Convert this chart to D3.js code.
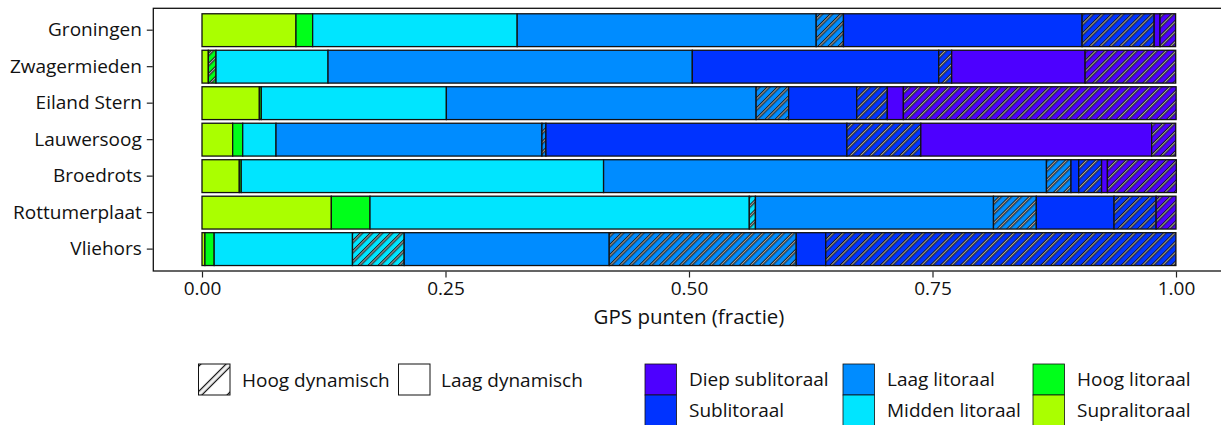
<!DOCTYPE html>
<html>
<head>
<meta charset="utf-8">
<script src="https://cdn.jsdelivr.net/npm/d3@7"></script>
<style>
  html, body { margin: 0; padding: 0; background: #fff; }
  svg { display: block; }
  text { font-family: "Open Sans", "Noto Sans", sans-serif; fill: #111; }
</style>
</head>
<body>
<svg id="chart" width="1221" height="425"></svg>
<script>
// ---------- data ----------
const categories = ["Groningen", "Zwagermieden", "Eiland Stern", "Lauwersoog", "Broedrots", "Rottumerplaat", "Vliehors"];

// fraction of GPS points per zone, split in laag (low) / hoog (high) dynamic
const supraLaag   = [0.0965, 0.0065, 0.0589, 0.0315, 0.0383, 0.1328, 0.0030];
const supraHoog   = [0,      0,      0,      0,      0,      0,      0];
const hoogLaag    = [0.0171, 0,      0.0020, 0.0103, 0.0020, 0.0397, 0.0095];
const hoogHoog    = [0,      0.0079, 0,      0,      0,      0,      0];
const middenLaag  = [0.2100, 0.1150, 0.1900, 0.0342, 0.3720, 0.3894, 0.1420];
const middenHoog  = [0,      0,      0,      0,      0,      0.0063, 0.0531];
const laagLaag    = [0.3070, 0.3740, 0.3180, 0.2730, 0.4547, 0.2444, 0.2105];
const laagHoog    = [0.0280, 0,      0.0334, 0.0041, 0.0252, 0.0440, 0.1920];
const subLaag     = [0.2450, 0.2530, 0.0699, 0.3090, 0.0079, 0.0798, 0.0303];
const subHoog     = [0.0740, 0.0133, 0.0314, 0.0759, 0.0235, 0.0432, 0.3595];
const diepLaag    = [0.0060, 0.1370, 0.0165, 0.2370, 0.0060, 0,      0];
const diepHoog    = [0.0160, 0.0930, 0.2800, 0.0247, 0.0707, 0.0204, 0];

const zones = ["Supralitoraal", "Hoog litoraal", "Midden litoraal", "Laag litoraal", "Sublitoraal", "Diep sublitoraal"];
const zoneColors = ["#aaff00", "#00ff1a", "#00e5ff", "#008cff", "#0033ff", "#4d00ff"];
const dynamics = ["Laag dynamisch", "Hoog dynamisch"];
const xTicks = [0, 0.25, 0.5, 0.75, 1];
const xTickLabels = ["0.00", "0.25", "0.50", "0.75", "1.00"];
const xTitle = "GPS punten (fractie)";

const seriesValues = [
  supraLaag, supraHoog, hoogLaag, hoogHoog, middenLaag, middenHoog,
  laagLaag, laagHoog, subLaag, subHoog, diepLaag, diepHoog
];

// build series keys
const seriesKeys = [];
zones.forEach((z, zi) => dynamics.forEach((d, di) => seriesKeys.push({ key: z + "|" + d, zone: zi, hatched: di === 1 })));

const table = categories.map((c, ci) => {
  const row = { cat: c };
  seriesKeys.forEach((s, si) => { row[s.key] = seriesValues[si][ci]; });
  return row;
});

// ---------- layout ----------
const svg = d3.select("#chart");
const panel = { left: 153.3, top: 8.3, right: 1224.7, bottom: 271 };
const labelSize = 19, titleSize = 20.5;

const x = d3.scaleLinear()
  .domain([-0.05, 1.05])
  .range([panel.left, panel.right]);

const y = d3.scaleBand()
  .domain(categories)
  .range([panel.top, panel.bottom])
  .paddingInner(0.1)
  .paddingOuter(0.15);

// patterns
const defs = svg.append("defs");
const sp = 7.1;
const pat = defs.append("pattern")
  .attr("id", "hatch")
  .attr("patternUnits", "userSpaceOnUse")
  .attr("width", sp).attr("height", sp)
  .attr("patternTransform", "rotate(45)");
pat.append("rect").attr("x", 0).attr("y", 0).attr("width", 3.0).attr("height", sp).attr("fill", "#1a1a1a");
pat.append("rect").attr("x", 1.0).attr("y", 0).attr("width", 1.0).attr("height", sp).attr("fill", "#b4b4b4");

const sp2 = 22.6;
const pat2 = defs.append("pattern")
  .attr("id", "hatchLegend")
  .attr("patternUnits", "userSpaceOnUse")
  .attr("width", sp2).attr("height", sp2)
  .attr("patternTransform", "translate(214,379.5) rotate(45)");
pat2.append("rect").attr("x", -3).attr("y", 0).attr("width", 6).attr("height", sp2).attr("fill", "#1a1a1a");
pat2.append("rect").attr("x", -1.8).attr("y", 0).attr("width", 3.6).attr("height", sp2).attr("fill", "#f2f2f2");
pat2.append("rect").attr("x", sp2 - 3).attr("y", 0).attr("width", 6).attr("height", sp2).attr("fill", "#1a1a1a");
pat2.append("rect").attr("x", sp2 - 1.8).attr("y", 0).attr("width", 3.6).attr("height", sp2).attr("fill", "#f2f2f2");

// panel background
svg.append("rect")
  .attr("x", panel.left).attr("y", panel.top)
  .attr("width", panel.right - panel.left).attr("height", panel.bottom - panel.top)
  .attr("fill", "#fff");

// stack
const stack = d3.stack().keys(seriesKeys.map(s => s.key));
const stacked = stack(table);

const gBars = svg.append("g");
stacked.forEach((layer, li) => {
  const info = seriesKeys[li];
  layer.forEach((seg, ci) => {
    const v = seg[1] - seg[0];
    if (v <= 0) return;
    const cat = categories[ci];
    const x0 = x(seg[0]), x1 = x(seg[1]);
    gBars.append("rect")
      .attr("x", x0).attr("y", y(cat))
      .attr("width", x1 - x0).attr("height", y.bandwidth())
      .attr("fill", zoneColors[info.zone]);
    if (info.hatched) {
      gBars.append("rect")
        .attr("x", x0).attr("y", y(cat))
        .attr("width", x1 - x0).attr("height", y.bandwidth())
        .attr("fill", "url(#hatch)");
    }
    gBars.append("rect")
      .attr("x", x0).attr("y", y(cat))
      .attr("width", x1 - x0).attr("height", y.bandwidth())
      .attr("fill", "none")
      .attr("stroke", "#111")
      .attr("stroke-width", 1.3);
  });
});

// panel border
svg.append("rect")
  .attr("x", panel.left).attr("y", panel.top)
  .attr("width", panel.right - panel.left).attr("height", panel.bottom - panel.top)
  .attr("fill", "none").attr("stroke", "#111").attr("stroke-width", 1.3);

// x axis
const xAxis = d3.axisBottom(x)
  .tickValues(xTicks)
  .tickFormat((d, i) => xTickLabels[i])
  .tickSize(6)
  .tickSizeOuter(0)
  .tickPadding(4);
const gx = svg.append("g").attr("transform", `translate(0,${panel.bottom + 0.5})`).call(xAxis);
gx.select(".domain").remove();
gx.selectAll(".tick line").attr("stroke", "#222").attr("stroke-width", 1.2);
gx.selectAll(".tick text").attr("font-size", labelSize).attr("fill", "#111")
  .style("font-family", '"Open Sans", sans-serif');

// y axis
const yAxis = d3.axisLeft(y).tickSize(6).tickSizeOuter(0).tickPadding(5);
const gy = svg.append("g").attr("transform", `translate(${panel.left - 0.5},0)`).call(yAxis);
gy.select(".domain").remove();
gy.selectAll(".tick line").attr("stroke", "#222").attr("stroke-width", 1.2);
gy.selectAll(".tick text").attr("font-size", labelSize).attr("fill", "#111")
  .style("font-family", '"Open Sans", sans-serif');

// x title
svg.append("text")
  .attr("x", x(0.5)).attr("y", 324)
  .attr("text-anchor", "middle")
  .attr("font-size", titleSize)
  .text(xTitle);

// ---------- legends ----------
const keyW = 31.5, keyH = 31;
const lg = svg.append("g");
// dynamics legend
lg.append("rect").attr("x", 198.5).attr("y", 364).attr("width", keyW).attr("height", keyH)
  .attr("fill", "#fff");
lg.append("rect").attr("x", 198.5).attr("y", 364).attr("width", keyW).attr("height", keyH)
  .attr("fill", "url(#hatchLegend)");
lg.append("rect").attr("x", 198.5).attr("y", 364).attr("width", keyW).attr("height", keyH)
  .attr("fill", "none").attr("stroke", "#111").attr("stroke-width", 1);
lg.append("text").attr("x", 242).attr("y", 387).attr("font-size", labelSize).text(dynamics[1]);

lg.append("rect").attr("x", 398.5).attr("y", 364).attr("width", keyW).attr("height", keyH)
  .attr("fill", "#fff").attr("stroke", "#111").attr("stroke-width", 1);
lg.append("text").attr("x", 441).attr("y", 387).attr("font-size", labelSize).text(dynamics[0]);

// zone legend: 3 columns x 2 rows, order top-to-bottom per column
const zoneOrder = [5, 4, 3, 2, 1, 0]; // Diep, Sub, Laag, Midden, Hoog, Supra
const colX = [645, 843, 1033];
zoneOrder.forEach((zi, i) => {
  const col = Math.floor(i / 2), row = i % 2;
  const kx = colX[col], ky = 364 + row * keyH;
  lg.append("rect").attr("x", kx).attr("y", ky).attr("width", keyW).attr("height", keyH)
    .attr("fill", zoneColors[zi]).attr("stroke", "#111").attr("stroke-width", 0.8);
  lg.append("text").attr("x", kx + 44).attr("y", ky + 21.5).attr("font-size", labelSize).text(zones[zi]);
});
</script>
</body>
</html>
